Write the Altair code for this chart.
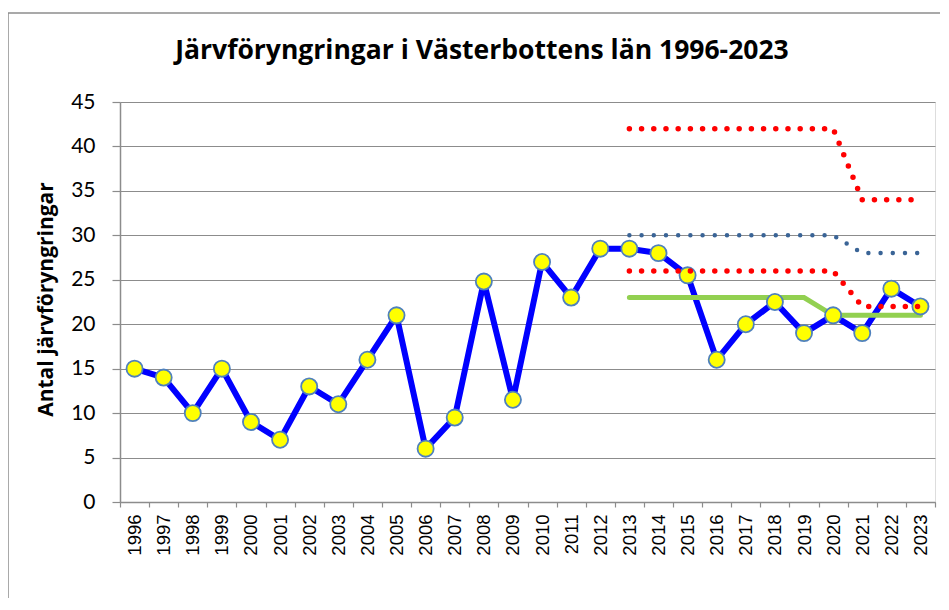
import altair as alt
import pandas as pd

years = [str(y) for y in range(1996, 2024)]
counts = [15, 14, 10, 15, 9, 7, 13, 11, 16, 21, 6, 9.5, 24.8, 11.5, 27, 23, 28.5,
          28.5, 28, 25.5, 16, 20, 22.5, 19, 21, 19, 24, 22]

ref_years = [str(y) for y in range(2013, 2024)]
upper_red = [42, 42, 42, 42, 42, 42, 42, 42, 34, 34, 34]
mid_blue = [30, 30, 30, 30, 30, 30, 30, 30, 28, 28, 28]
lower_red = [26, 26, 26, 26, 26, 26, 26, 26, 22, 22, 22]
green = [23, 23, 23, 23, 23, 23, 23, 21, 21, 21, 21]

title_text = "Järvföryngringar i Västerbottens län 1996-2023"
y_title = "Antal järvföryngringar"

main_df = pd.DataFrame({"year": years, "value": counts})
up_df = pd.DataFrame({"year": ref_years, "value": upper_red})
mid_df = pd.DataFrame({"year": ref_years, "value": mid_blue})
low_df = pd.DataFrame({"year": ref_years, "value": lower_red})
green_df = pd.DataFrame({"year": ref_years, "value": green})

GRAY = "#8c8c8c"

x_enc = alt.X(
    "year:O",
    bandPosition=0.5,
    scale=alt.Scale(type="band", domain=years, paddingInner=0, paddingOuter=0),
    axis=alt.Axis(
        title=None, labelAngle=270, labelAlign="right", labelBaseline="middle",
        labelFont="Liberation Sans", labelFontSize=18.5, labelColor="black",
        labelPadding=7, tickBand="extent", tickSize=5, tickColor=GRAY,
        tickWidth=1.2, domainColor=GRAY, domainWidth=1.5, grid=False,
    ),
)
y_enc = alt.Y(
    "value:Q",
    scale=alt.Scale(domain=[0, 45], nice=False, zero=True),
    axis=alt.Axis(
        values=list(range(0, 50, 5)), grid=True, gridColor=GRAY, gridWidth=1.2,
        tickSize=8, tickColor=GRAY, tickWidth=1.2, domainColor=GRAY, domainWidth=1.5,
        labelFont="Lato", labelFontSize=21, labelColor="black", labelPadding=17,
        title=y_title, titleFont="Open Sans", titleFontSize=21,
        titleFontWeight="bold", titleColor="black", titleAngle=270,
        titleX=-74, titleY=197, titleAlign="center", titleBaseline="middle",
    ),
)

main_line = alt.Chart(main_df).mark_line(color="#0000ff", strokeWidth=6).encode(x=x_enc, y=y_enc)
green_line = alt.Chart(green_df).mark_line(color="#92d050", strokeWidth=5, strokeCap="round").encode(x=x_enc, y=y_enc)
points = alt.Chart(main_df).mark_point(
    shape="circle", filled=True, fill="#ffff00", stroke="#4f81bd",
    strokeWidth=1.8, size=260, opacity=1, fillOpacity=1,
).encode(x=x_enc, y=y_enc)
mid_line = alt.Chart(mid_df).mark_line(
    color="#3a6496", strokeWidth=4.5, strokeCap="round", strokeDash=[0, 12.2]
).encode(x=x_enc, y=y_enc)
up_line = alt.Chart(up_df).mark_line(
    color="#ff0000", strokeWidth=5.5, strokeCap="round", strokeDash=[0, 12.2]
).encode(x=x_enc, y=y_enc)
low_line = alt.Chart(low_df).mark_line(
    color="#ff0000", strokeWidth=5.5, strokeCap="round", strokeDash=[0, 12.2]
).encode(x=x_enc, y=y_enc)

one = pd.DataFrame({"a": [0]})
frame_top = alt.Chart(one).mark_rule(color=GRAY, strokeWidth=1.5).encode(
    x=alt.value(-112), x2=alt.value(829), y=alt.value(-89)
)
frame_left = alt.Chart(one).mark_rule(color=GRAY, strokeWidth=1.5).encode(
    x=alt.value(-112), y=alt.value(-89), y2=alt.value(506)
)
title_mark = alt.Chart(pd.DataFrame({"t": [title_text]})).mark_text(
    font="Open Sans", fontSize=26.5, fontWeight="bold", color="black",
    align="center", baseline="alphabetic",
).encode(x=alt.value(362), y=alt.value(-43), text="t:N")

chart = alt.layer(
    frame_top, frame_left, title_mark, main_line, green_line, points,
    mid_line, up_line, low_line
).properties(
    width=815,
    height=400,
    autosize=alt.AutoSizeParams(type="none"),
    padding={"left": 112, "top": 94, "right": 5, "bottom": 96},
).configure_view(stroke=None).configure(background="white")

chart.save("out.html", embed_options={"renderer": "svg", "actions": False})
